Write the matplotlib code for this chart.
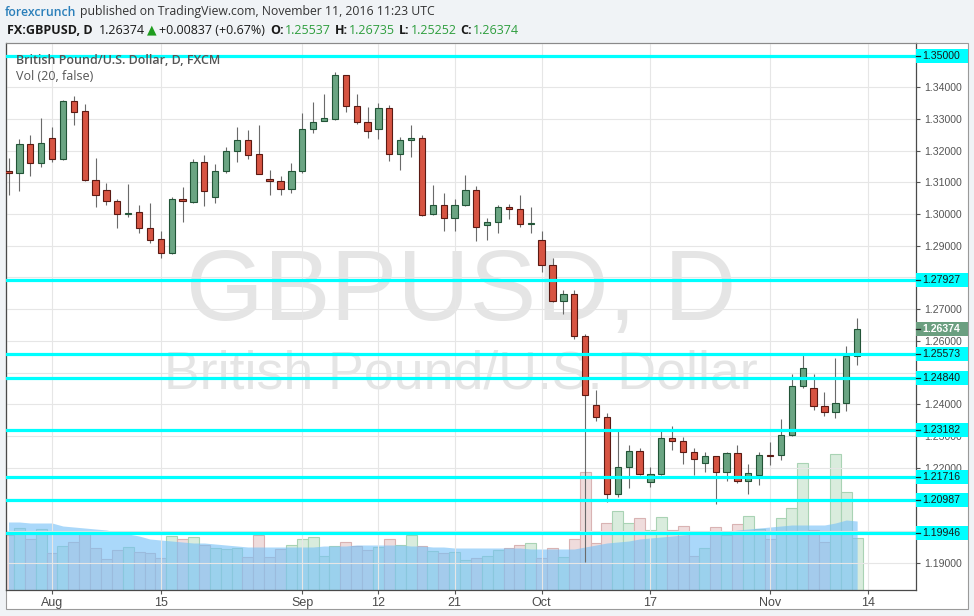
import matplotlib
matplotlib.use("Agg")
import matplotlib.pyplot as plt
import numpy as np
from matplotlib.patches import Rectangle
from matplotlib.transforms import blended_transform_factory

# daily GBPUSD candles, Jul 26 - Nov 11 2016
opens = [1.3135, 1.3130, 1.3221, 1.3161, 1.3240, 1.3174, 1.3356, 1.3324, 1.3107, 1.3075,
         1.3040, 1.3001, 1.3006, 1.2955, 1.2920, 1.2876, 1.3047, 1.3039, 1.3163, 1.3053,
         1.3135, 1.3198, 1.3233, 1.3189, 1.3110, 1.3103, 1.3078, 1.3135, 1.3267, 1.3293,
         1.3301, 1.3438, 1.3340, 1.3290, 1.3267, 1.3334, 1.3189, 1.3233, 1.3239, 1.2999,
         1.3028, 1.2987, 1.3028, 1.3075, 1.2965, 1.2974, 1.3021, 1.3015, 1.2968, 1.2917,
         1.2838, 1.2725, 1.2747, 1.2614, 1.2397, 1.2359, 1.2116, 1.2201, 1.2252, 1.2154,
         1.2179, 1.2293, 1.2283, 1.2249, 1.2214, 1.2236, 1.2185, 1.2245, 1.2157, 1.2176,
         1.2240, 1.2239, 1.2302, 1.2457, 1.2450, 1.2394, 1.2375, 1.2403, 1.25537]
highs = [1.3177, 1.3237, 1.3249, 1.3303, 1.3275, 1.3360, 1.3372, 1.3347, 1.3176, 1.3098,
         1.3049, 1.3094, 1.3029, 1.3034, 1.2947, 1.3053, 1.3085, 1.3174, 1.3186, 1.3159,
         1.3211, 1.3275, 1.3265, 1.3281, 1.3139, 1.3120, 1.3160, 1.3319, 1.3354, 1.3379,
         1.3448, 1.3440, 1.3379, 1.3338, 1.3350, 1.3344, 1.3242, 1.3281, 1.3249, 1.3091,
         1.3066, 1.3047, 1.3123, 1.3088, 1.2987, 1.3028, 1.3031, 1.3059, 1.3022, 1.2947,
         1.2861, 1.2760, 1.2759, 1.2622, 1.2444, 1.2372, 1.2315, 1.2271, 1.2261, 1.2201,
         1.2315, 1.2330, 1.2296, 1.2261, 1.2249, 1.2238, 1.2249, 1.2271, 1.2211, 1.2249,
         1.2280, 1.2353, 1.2495, 1.2555, 1.2495, 1.2438, 1.2545, 1.2583, 1.26735]
lows = [1.3060, 1.3073, 1.3120, 1.3149, 1.3164, 1.3170, 1.3281, 1.3105, 1.3023, 1.3029,
        1.2957, 1.2992, 1.2939, 1.2908, 1.2861, 1.2874, 1.2975, 1.3034, 1.3026, 1.3036,
        1.3131, 1.3165, 1.3173, 1.3127, 1.3060, 1.3061, 1.3066, 1.3131, 1.3257, 1.3293,
        1.3297, 1.3323, 1.3284, 1.3241, 1.3238, 1.3168, 1.3140, 1.3181, 1.2994, 1.2997,
        1.2948, 1.2948, 1.3026, 1.2916, 1.2919, 1.2939, 1.2983, 1.2958, 1.2939, 1.2818,
        1.2722, 1.2685, 1.2605, 1.1903, 1.2346, 1.2091, 1.2107, 1.2135, 1.2177, 1.2138,
        1.2177, 1.2255, 1.2211, 1.2177, 1.2185, 1.2084, 1.2157, 1.2151, 1.2116, 1.2144,
        1.2207, 1.2223, 1.2299, 1.2450, 1.2381, 1.2362, 1.2356, 1.2378, 1.25252]
closes = [1.3129, 1.3221, 1.3161, 1.3224, 1.3174, 1.3357, 1.3323, 1.3107, 1.3061, 1.3040,
          1.3001, 1.3004, 1.2955, 1.2918, 1.2876, 1.3047, 1.3040, 1.3163, 1.3072, 1.3135,
          1.3198, 1.3233, 1.3187, 1.3127, 1.3103, 1.3078, 1.3135, 1.3267, 1.3290, 1.3302,
          1.3438, 1.3340, 1.3290, 1.3262, 1.3334, 1.3189, 1.3233, 1.3239, 1.2996, 1.3028,
          1.2987, 1.3028, 1.3075, 1.2958, 1.2974, 1.3021, 1.3015, 1.2968, 1.2971, 1.2838,
          1.2725, 1.2747, 1.2614, 1.2428, 1.2359, 1.2116, 1.2201, 1.2252, 1.2179, 1.2179,
          1.2293, 1.2283, 1.2249, 1.2226, 1.2236, 1.2185, 1.2245, 1.2157, 1.2182, 1.2239,
          1.2238, 1.2302, 1.2457, 1.2514, 1.2394, 1.2375, 1.2403, 1.2551, 1.26374]
volume = [55, 62, 51, 61, 37, 44, 48, 56, 42, 31, 40, 43, 38, 37, 32, 54, 51, 53, 45, 42,
          41, 42, 33, 55, 33, 41, 45, 51, 53, 34, 44, 48, 44, 40, 43, 51, 45, 55, 44, 39,
          37, 38, 30, 32, 34, 40, 42, 45, 47, 32, 42, 33, 51, 118, 47, 67, 79, 67, 72, 60,
          73, 60, 64, 34, 42, 63, 55, 66, 74, 61, 51, 72, 82, 127, 60, 48, 136, 98, 52]
vol_ma = [68, 68, 67, 67, 67, 64, 63, 62, 61, 60, 58, 56, 54, 51, 50, 49, 48, 47, 47, 46,
          45, 44, 43, 43, 43, 43, 43, 43, 43, 44, 44, 44, 45, 45, 45, 45, 45, 44, 44, 43,
          43, 42, 42, 42, 42, 42, 42, 42, 41, 41, 41, 41, 41, 43, 45, 47, 48, 49, 51, 52,
          53, 54, 55, 56, 57, 58, 58, 60, 61, 62, 63, 64, 65, 65, 65, 65, 67, 70, 69]

levels = [1.35000, 1.27927, 1.25573, 1.24840, 1.23182, 1.21716, 1.20987, 1.19946]
last_close = 1.26374
price_ticks = [1.19, 1.20, 1.21, 1.22, 1.23, 1.24, 1.25, 1.26, 1.27, 1.28,
               1.29, 1.30, 1.31, 1.32, 1.33, 1.34, 1.35]
hidden_ticks = [1.20, 1.21, 1.25, 1.28, 1.35]  # labels hidden behind level boxes
date_ticks = [4, 14, 27, 34, 41, 49, 59, 70, 79]
date_labels = ["Aug", "15", "Sep", "12", "21", "Oct", "17", "Nov", "14"]

W, H = 974, 616
fig = plt.figure(figsize=(W / 100, H / 100), dpi=100, facecolor="#f0f3f6")

panel = Rectangle((6 / W, 1 - 609 / H), 962 / W, 566 / H, transform=fig.transFigure,
                  facecolor="white", edgecolor="#9a9a9a", lw=0.8, zorder=-5)
fig.patches.append(panel)

rect = [6 / W, 1 - 590 / H, 910 / W, 547 / H]
axv = fig.add_axes(rect)
ax = fig.add_axes(rect, sharex=axv)
ax.patch.set_visible(False)
axv.patch.set_visible(False)
axv.axis("off")

idx = np.arange(len(opens))
o, h, l, c = map(np.array, (opens, highs, lows, closes))
up = c >= o

# volume + its 20 MA area, bottom pane
axv.bar(idx, volume, width=1.0, color=np.where(up, "#d9ecdd", "#efdcdc"),
        edgecolor=np.where(up, "#a9d3b4", "#d9b3b3"), linewidth=0.8, zorder=1)
axv.fill_between(idx, 0, vol_ma, color=(118 / 255, 193 / 255, 247 / 255), alpha=0.62,
                 lw=0, zorder=2)
axv.set_ylim(0, 547)

# watermark
axv.text(0.5, 0.494, "GBPUSD, D", transform=axv.transAxes, ha="center", va="baseline",
         fontsize=72, color="#e5e5e5", family="Liberation Sans", zorder=0)
axv.text(0.5, 0.369, "British Pound/U.S. Dollar", transform=axv.transAxes, ha="center",
         va="baseline", fontsize=38.6, color="#e5e5e5", family="Liberation Sans", zorder=0)

# candles
ax.vlines(idx, l, h, color="#6a6a6a", lw=0.8, zorder=2)
body_h = np.maximum(np.abs(c - o), 0.00012)
ax.bar(idx, body_h, bottom=np.minimum(o, c), width=0.58,
       color=np.where(up, "#6ba583", "#d75442"),
       edgecolor=np.where(up, "#225437", "#5b1a13"), linewidth=0.8, zorder=3)

ymin, ymax = 1.18141, 1.35396
ax.set_ylim(ymin, ymax)
ax.set_xlim(-0.23, 83.41)
px = (ymax - ymin) / 547

for lv in levels:
    ax.axhline(lv, color="#00ffff", lw=2.3, zorder=4)

ax.set_axisbelow(True)
ax.grid(True, color="#e6e6e6", lw=0.8)
ax.yaxis.tick_right()
ax.set_yticks(price_ticks)
ax.set_yticklabels(["" if any(abs(t - hdn) < 1e-9 for hdn in hidden_ticks) else f"{t:.5f}"
                    for t in price_ticks])
ax.set_xticks(date_ticks)
ax.set_xticklabels(date_labels)
ax.tick_params(axis="y", length=3, width=0.8, color="#555", labelcolor="#555",
               labelsize=7.6, pad=3)
ax.tick_params(axis="x", length=3, width=0.8, color="#555", labelcolor="#4a4a4a",
               labelsize=9, pad=2)
for lab in ax.get_yticklabels():
    lab.set_family("Liberation Sans")
for lab in ax.get_xticklabels():
    lab.set_family(["Liberation Sans Narrow", "Liberation Sans"])
for side in ["left", "bottom", "right"]:
    ax.spines[side].set_color("#4a4a4a")
    ax.spines[side].set_linewidth(0.9)
ax.spines["top"].set_color("#8a8a8a")
ax.spines["top"].set_linewidth(0.8)

# price labels on the right scale
blend = blended_transform_factory(ax.transAxes, ax.transData)
box_w = 52 / 910
for lv, face, fg, wt in [(v, "#00ffff", "#1a1a1a", "normal") for v in levels] + \
        [(last_close, "#6b9f80", "white", "bold")]:
    ax.add_patch(Rectangle((1.0, lv - 7 * px), box_w, 14 * px, transform=blend,
                           facecolor=face, edgecolor="none", clip_on=False, zorder=5))
    ax.text(1.0 + 6 / 910, lv, f"{lv:.5f}", transform=blend, ha="left", va="center",
            fontsize=7.6, color=fg, fontweight=wt, family="Liberation Sans",
            clip_on=False, zorder=6)
    ax.plot([1.0, 1.0 + 4 / 910], [lv, lv], transform=blend, color="#222", lw=0.9,
            clip_on=False, zorder=7)

# header texts
renderer = fig.canvas.get_renderer()


def put_row(pieces, x, y, size):
    for text, color, weight, gap in pieces:
        t = fig.text(x / W, 1 - y / H, text, color=color, fontsize=size,
                     fontweight=weight, family=["Open Sans", "DejaVu Sans"],
                     ha="left", va="center")
        x += t.get_window_extent(renderer).width + gap


green = "#2e9e3e"
put_row([("forexcrunch", "#2a7fba", "semibold", 4),
         ("published on TradingView.com, November 11, 2016 11:23 UTC", "#333333", "normal", 0)],
        5, 12, 8.8)
put_row([("FX:GBPUSD, D", "#1a1a1a", "bold", 6),
         ("1.26374", "#1a1a1a", "normal", 2),
         ("\u25b2", "#1f9d1f", "normal", 3),
         ("+0.00837 (+0.67%)", "#1a1a1a", "normal", 5),
         ("O:", "#1a1a1a", "bold", 1), ("1.25537", green, "normal", 4),
         ("H:", "#1a1a1a", "bold", 1), ("1.26735", green, "normal", 4),
         ("L:", "#1a1a1a", "bold", 1), ("1.25252", green, "normal", 4),
         ("C:", "#1a1a1a", "bold", 1), ("1.26374", green, "normal", 0)],
        7, 30, 9)
fig.text(16 / W, 1 - 61 / H, "British Pound/U.S. Dollar, D, FXCM", color="#555555",
         fontsize=9, fontweight="semibold", family="Open Sans", ha="left", va="center")
fig.text(16 / W, 1 - 77 / H, "Vol (20, false)", color="#555555", fontsize=9,
         family="Open Sans", ha="left", va="center")

fig.savefig("out.png", dpi=100, facecolor=fig.get_facecolor())
